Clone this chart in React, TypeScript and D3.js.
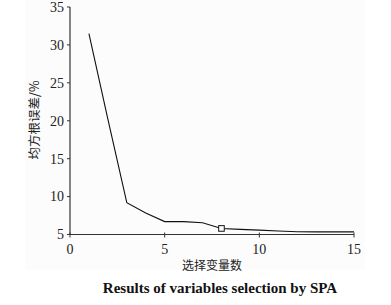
import React from "react";
import * as d3 from "d3";

const xValues = [1, 2, 3, 4, 5, 6, 7, 8, 9, 10, 11, 12, 13, 14, 15];
const rmse = [31.5, 20.2, 9.2, 7.85, 6.7, 6.7, 6.55, 5.8, 5.68, 5.58, 5.46, 5.36, 5.35, 5.35, 5.35];
const markerX = [8];
const xTicks = [0, 5, 10, 15];
const yTicks = [5, 10, 15, 20, 25, 30, 35];
const xLabel = "选择变量数";
const yLabel = "均方根误差/%";
const title = "Results of variables selection by SPA";

export default function App() {
  const W = 391, H = 305;
  const x = d3.scaleLinear().domain([0, 15]).range([70, 354]);
  const y = d3.scaleLinear().domain([5, 35]).range([234.5, 7]);
  const data = xValues.map((v, i) => [v, rmse[i]] as [number, number]);
  const line = d3.line<[number, number]>().x(d => x(d[0])).y(d => y(d[1]));
  const serif = "'Liberation Serif', 'Times New Roman', serif";
  const cjk = "'Noto Sans CJK SC', sans-serif";
  return (
    <svg width={W} height={H} style={{ position: "absolute", left: 0, top: 0, background: "#fff" }}>
      <rect x={25} y={0} width={340} height={270} fill="#fcfcfc" />
      <path d={line(data) || ""} fill="none" stroke="#111" strokeWidth={1.1} />
      {markerX.map(m => {
        const i = xValues.indexOf(m);
        return (
          <rect key={m} x={x(m) - 2.8} y={y(rmse[i]) - 2.8} width={5.6} height={5.6}
            fill="#fff" stroke="#111" strokeWidth={1} />
        );
      })}
      {/* axes */}
      <line x1={x(0)} x2={x(0)} y1={y(35)} y2={y(5)} stroke="#333" strokeWidth={1.2} />
      <line x1={x(0)} x2={x(15)} y1={y(5)} y2={y(5)} stroke="#333" strokeWidth={1.2} />
      {yTicks.map(t => (
        <g key={"y" + t}>
          <line x1={x(0) - 3} x2={x(0)} y1={y(t)} y2={y(t)} stroke="#333" strokeWidth={1} />
          <text x={x(0) - 6} y={y(t)} dy="0.35em" textAnchor="end" fontFamily={serif} fontSize={14} fill="#222">{t}</text>
        </g>
      ))}
      {xTicks.map(t => (
        <g key={"x" + t}>
          <line x1={x(t)} x2={x(t)} y1={y(5) - 2} y2={y(5) + 3} stroke="#333" strokeWidth={1} />
          <text x={x(t)} y={y(5) + 19} textAnchor="middle" fontFamily={serif} fontSize={14} fill="#222">{t}</text>
        </g>
      ))}
      <text x={212} y={270} textAnchor="middle" fontFamily={cjk} fontSize={12} fill="#222">{xLabel}</text>
      <text transform={`translate(39,120) rotate(-90)`} textAnchor="middle" fontFamily={cjk} fontSize={12.5} fill="#222">{yLabel}</text>
      <text x={220} y={293} textAnchor="middle" fontFamily={serif} fontWeight="bold" fontSize={15} fill="#111">{title}</text>
    </svg>
  );
}
